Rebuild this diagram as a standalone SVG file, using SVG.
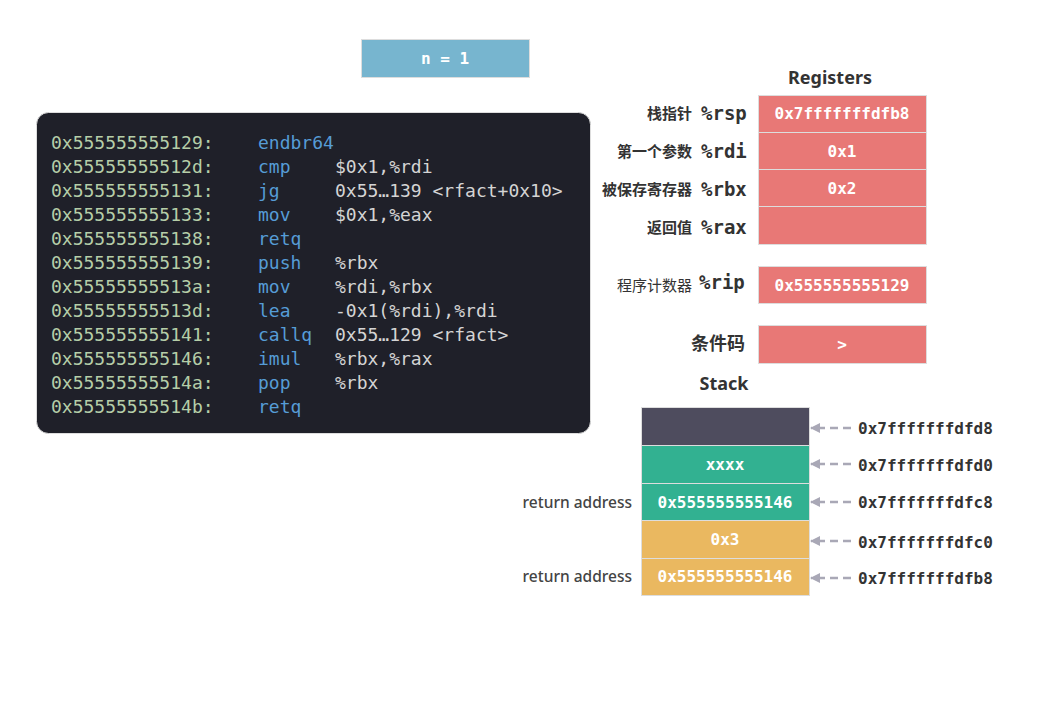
<svg xmlns="http://www.w3.org/2000/svg" width="1060" height="720" viewBox="0 0 1060 720">
<defs>
<style>
.code{font-family:"DejaVu Sans Mono","Liberation Mono",monospace;font-size:18px}
.addr{fill:#b5cea8}.ins{fill:#569cd6}.op{fill:#d4d4d4}
.reg{fill:#e87876;stroke:#dddddd;stroke-width:1}
.val{font-family:"DejaVu Sans Mono","Liberation Mono",monospace;font-size:16px;font-weight:bold;fill:#ffffff;text-anchor:middle}
.lab{font-family:"Noto Sans CJK SC","Noto Sans",sans-serif;font-size:15px;font-weight:bold;fill:#333;text-anchor:end}
.rn{font-family:"DejaVu Sans Mono","Liberation Mono",monospace;font-size:19px;font-weight:bold;fill:#333}
.title{font-family:"Noto Sans","Noto Sans CJK SC",sans-serif;font-size:18px;font-weight:bold;fill:#333;text-anchor:middle}
.sa{font-family:"DejaVu Sans Mono","Liberation Mono",monospace;font-size:16px;font-weight:bold;fill:#333}
.ra{font-family:"Noto Sans",sans-serif;font-size:15.5px;font-weight:500;fill:#444;text-anchor:end}
.cell{stroke:#dddddd;stroke-width:1}
.conn{stroke:#a9a8b6;stroke-width:2.5;stroke-dasharray:8 5;fill:none}
</style>
<marker id="ah" viewBox="0 0 10 10" refX="9" refY="5" markerWidth="4" markerHeight="4" orient="auto">
<path d="M0,0 L10,5 L0,10 z" fill="#a9a8b6"/>
</marker>
</defs>
<rect width="1060" height="720" fill="#ffffff"/>

<g id="n-box">
<rect x="361.5" y="39.5" width="168" height="38" fill="#77b5cf" stroke="#dddddd"/>
<text x="445" y="64" class="val">n = 1</text>
</g>

<g id="code">
<rect x="36.5" y="112.5" width="554" height="321" rx="12" fill="#1f2029" stroke="#dddddd"/>
<g class="code">
<text x="51" y="149"><tspan class="addr">0x555555555129:</tspan><tspan x="258" class="ins">endbr64</tspan></text>
<text x="51" y="173"><tspan class="addr">0x55555555512d:</tspan><tspan x="258" class="ins">cmp</tspan><tspan x="335" class="op">$0x1,%rdi</tspan></text>
<text x="51" y="197"><tspan class="addr">0x555555555131:</tspan><tspan x="258" class="ins">jg</tspan><tspan x="335" class="op">0x55…139 &lt;rfact+0x10&gt;</tspan></text>
<text x="51" y="221"><tspan class="addr">0x555555555133:</tspan><tspan x="258" class="ins">mov</tspan><tspan x="335" class="op">$0x1,%eax</tspan></text>
<text x="51" y="245"><tspan class="addr">0x555555555138:</tspan><tspan x="258" class="ins">retq</tspan></text>
<text x="51" y="269"><tspan class="addr">0x555555555139:</tspan><tspan x="258" class="ins">push</tspan><tspan x="335" class="op">%rbx</tspan></text>
<text x="51" y="293"><tspan class="addr">0x55555555513a:</tspan><tspan x="258" class="ins">mov</tspan><tspan x="335" class="op">%rdi,%rbx</tspan></text>
<text x="51" y="317"><tspan class="addr">0x55555555513d:</tspan><tspan x="258" class="ins">lea</tspan><tspan x="335" class="op">-0x1(%rdi),%rdi</tspan></text>
<text x="51" y="341"><tspan class="addr">0x555555555141:</tspan><tspan x="258" class="ins">callq</tspan><tspan x="335" class="op">0x55…129 &lt;rfact&gt;</tspan></text>
<text x="51" y="365"><tspan class="addr">0x555555555146:</tspan><tspan x="258" class="ins">imul</tspan><tspan x="335" class="op">%rbx,%rax</tspan></text>
<text x="51" y="389"><tspan class="addr">0x55555555514a:</tspan><tspan x="258" class="ins">pop</tspan><tspan x="335" class="op">%rbx</tspan></text>
<text x="51" y="413"><tspan class="addr">0x55555555514b:</tspan><tspan x="258" class="ins">retq</tspan></text>
</g>
</g>

<text x="830" y="84" class="title">Registers</text>

<g id="reg-rsp">
<rect x="758.5" y="95.5" width="168" height="37" class="reg"/>
<text x="842" y="119" class="val">0x7fffffffdfb8</text>
<text x="692" y="119" class="lab">栈指针</text>
<text x="701" y="120" class="rn">%rsp</text>
</g>
<g id="reg-rdi">
<rect x="758.5" y="132.5" width="168" height="37" class="reg"/>
<text x="842" y="157" class="val">0x1</text>
<text x="692" y="157" class="lab">第一个参数</text>
<text x="701" y="158" class="rn">%rdi</text>
</g>
<g id="reg-rbx">
<rect x="758.5" y="169.5" width="168" height="37" class="reg"/>
<text x="842" y="194" class="val">0x2</text>
<text x="692" y="195" class="lab">被保存寄存器</text>
<text x="701" y="196" class="rn">%rbx</text>
</g>
<g id="reg-rax">
<rect x="758.5" y="206.5" width="168" height="38" class="reg"/>
<text x="692" y="233" class="lab">返回值</text>
<text x="701" y="234" class="rn">%rax</text>
</g>
<g id="reg-rip">
<rect x="758.5" y="266.5" width="168" height="37" class="reg"/>
<text x="842" y="291" class="val">0x555555555129</text>
<text x="692" y="291" class="lab" style="font-weight:normal">程序计数器</text>
<text x="699" y="289" class="rn">%rip</text>
</g>
<g id="cond">
<rect x="758.5" y="325.5" width="168" height="38" class="reg"/>
<text x="842" y="350" class="val">&gt;</text>
<text x="745" y="350" class="lab" style="font-size:18px">条件码</text>
</g>

<text x="724" y="390" class="title">Stack</text>

<g id="stack-d8">
<rect x="641.5" y="407.5" width="168" height="38" fill="#4e4c5e" class="cell"/>
<text x="858" y="434" class="sa">0x7fffffffdfd8</text>
</g>
<g id="stack-d0">
<rect x="641.5" y="445.5" width="168" height="38" fill="#32b191" class="cell"/>
<text x="725" y="470" class="val">xxxx</text>
<text x="858" y="471" class="sa">0x7fffffffdfd0</text>
</g>
<g id="stack-c8">
<rect x="641.5" y="483.5" width="168" height="37" fill="#32b191" class="cell"/>
<text x="725" y="508" class="val">0x555555555146</text>
<text x="858" y="508" class="sa">0x7fffffffdfc8</text>
<text x="632" y="508" class="ra">return address</text>
</g>
<g id="stack-c0">
<rect x="641.5" y="520.5" width="168" height="38" fill="#eab860" class="cell"/>
<text x="725" y="545" class="val">0x3</text>
<text x="858" y="548" class="sa">0x7fffffffdfc0</text>
</g>
<g id="stack-b8">
<rect x="641.5" y="558.5" width="168" height="37" fill="#eab860" class="cell"/>
<text x="725" y="582" class="val">0x555555555146</text>
<text x="858" y="584" class="sa">0x7fffffffdfb8</text>
<text x="632" y="582" class="ra">return address</text>
</g>

<g id="connectors">
<line x1="851" y1="428" x2="811" y2="428" class="conn" marker-end="url(#ah)"/>
<line x1="851" y1="464" x2="811" y2="464" class="conn" marker-end="url(#ah)"/>
<line x1="851" y1="502" x2="811" y2="502" class="conn" marker-end="url(#ah)"/>
<line x1="851" y1="541" x2="811" y2="541" class="conn" marker-end="url(#ah)"/>
<line x1="851" y1="578" x2="811" y2="578" class="conn" marker-end="url(#ah)"/>
</g>
</svg>
